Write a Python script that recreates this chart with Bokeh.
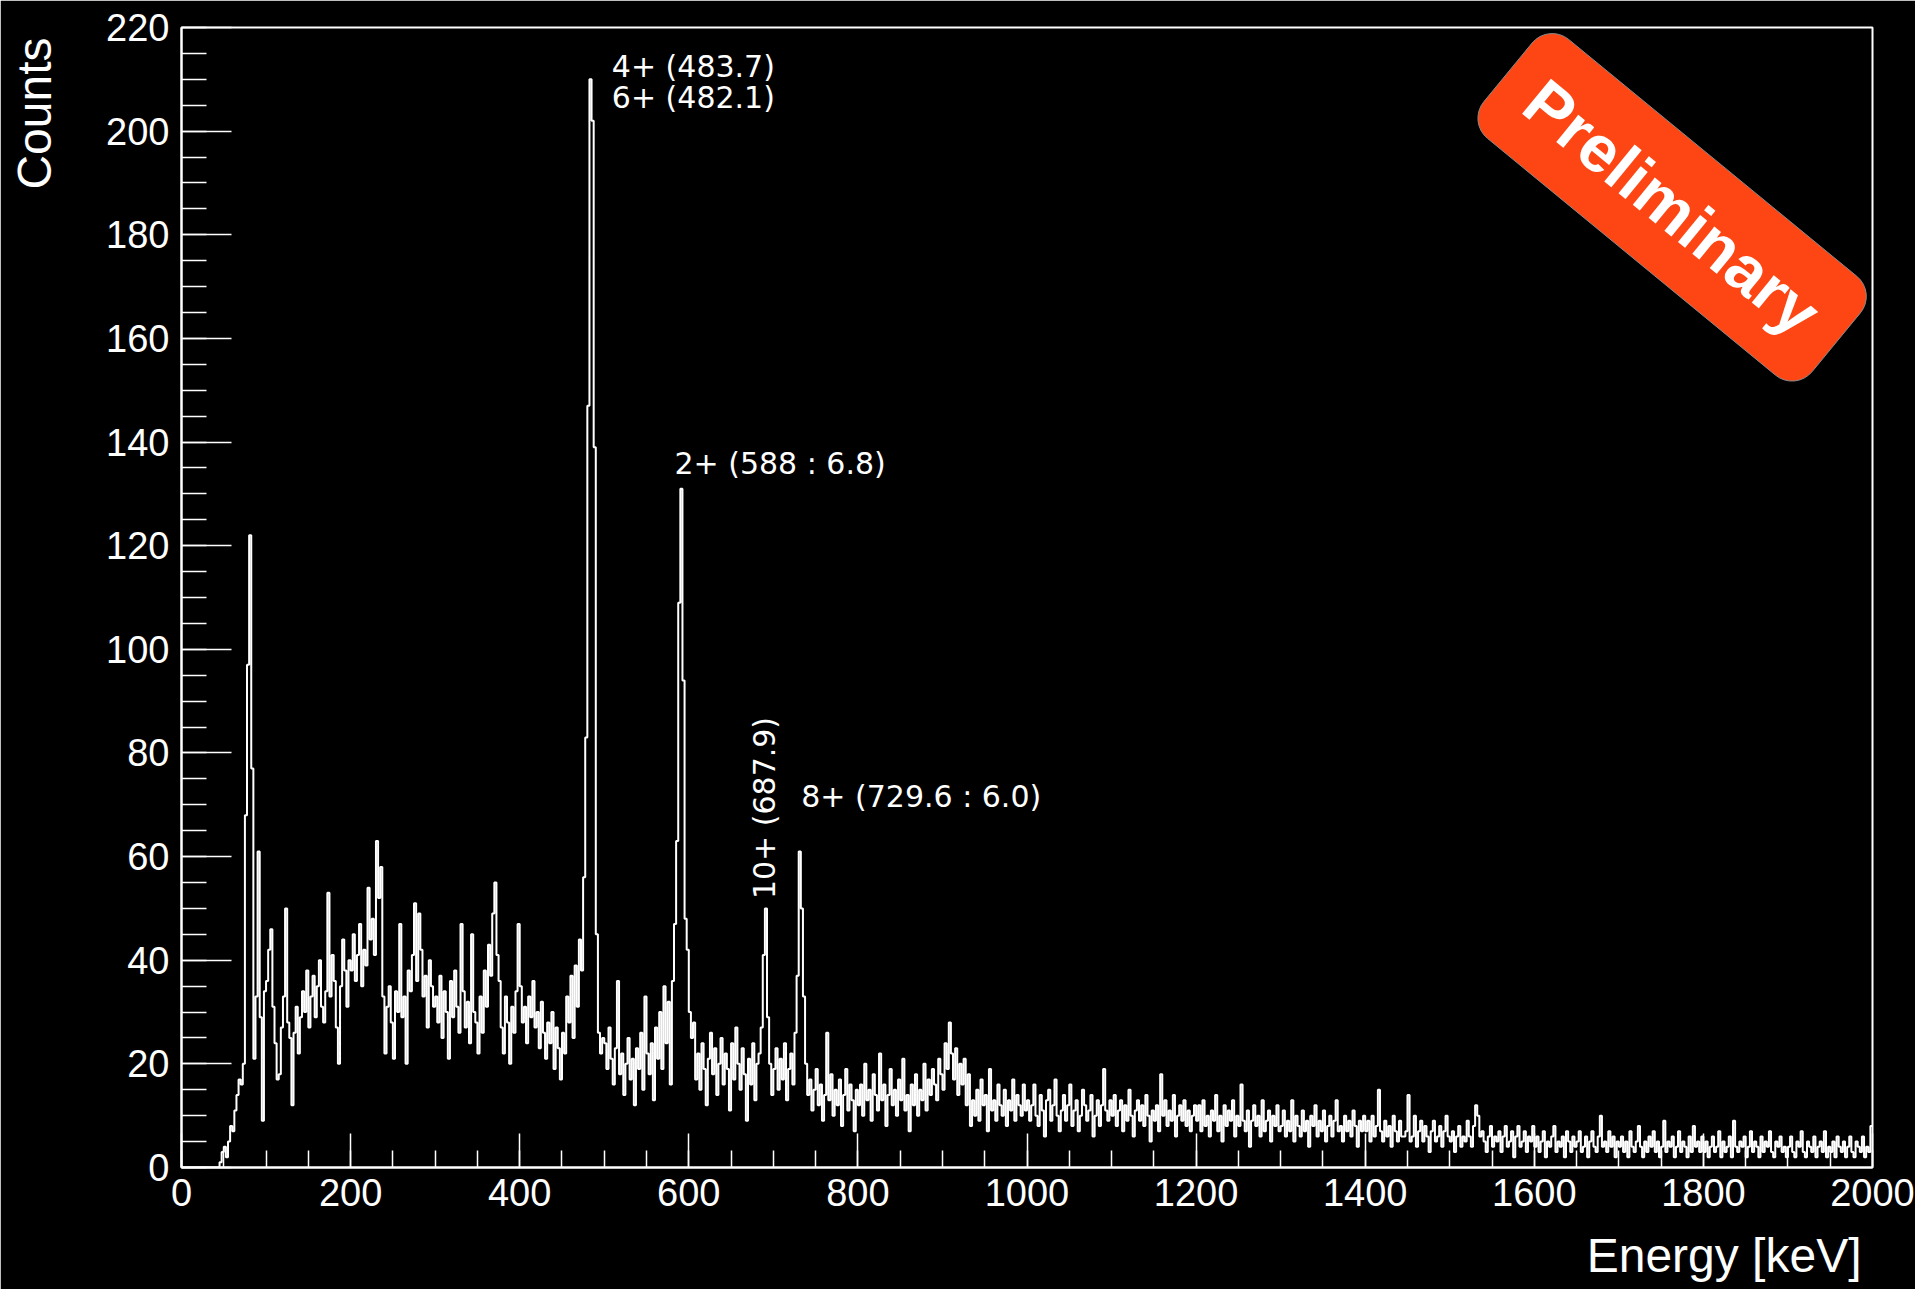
import re
import numpy as np
from bokeh.plotting import figure
from bokeh.models import Range1d, FixedTicker, Label, Title
from bokeh.embed import file_html
from bokeh.resources import INLINE

# ---------------- data ----------------
BIN_WIDTH = 2.5  # keV per bin
X_RANGE = (0, 2000)
Y_RANGE = (0, 220)

# counts per 2.5 keV bin, one list per 100 keV
seg_0000 = [0, 0, 0, 0, 0, 0, 0, 0, 0, 0,
            0, 0, 0, 0, 0, 0, 0, 0, 1, 3,
            4, 2, 5, 8, 7, 11, 14, 17, 16, 20,
            68, 97, 122, 77, 21, 33, 61, 29, 9, 34]
seg_0100 = [36, 42, 46, 31, 24, 17, 18, 27, 33, 50,
            28, 25, 12, 26, 31, 22, 29, 34, 30, 38,
            27, 33, 37, 29, 35, 40, 31, 28, 34, 53,
            33, 41, 36, 27, 20, 35, 44, 38, 31, 40]
seg_0200 = [38, 45, 36, 41, 47, 35, 42, 39, 54, 44,
            48, 41, 63, 52, 58, 33, 22, 31, 35, 28,
            21, 34, 30, 47, 29, 33, 20, 38, 34, 41,
            51, 36, 49, 42, 33, 37, 27, 40, 35, 31]
seg_0300 = [33, 28, 37, 25, 34, 30, 21, 36, 29, 38,
            31, 26, 47, 34, 27, 32, 24, 45, 30, 28,
            22, 33, 26, 38, 31, 43, 37, 49, 55, 41,
            36, 27, 22, 33, 28, 20, 31, 26, 34, 47]
seg_0400 = [35, 28, 31, 24, 33, 29, 36, 27, 30, 23,
            32, 26, 21, 28, 24, 30, 19, 27, 23, 17,
            26, 22, 33, 28, 37, 25, 39, 31, 44, 38,
            56, 83, 147, 210, 202, 139, 45, 26, 22, 25]
seg_0500 = [24, 19, 27, 21, 16, 23, 36, 18, 22, 14,
            20, 25, 17, 21, 12, 23, 19, 26, 15, 33,
            22, 18, 24, 13, 27, 21, 30, 19, 35, 24,
            32, 16, 36, 47, 63, 109, 131, 94, 48, 42]
seg_0600 = [30, 25, 28, 17, 22, 15, 24, 19, 12, 21,
            26, 18, 23, 14, 20, 25, 16, 22, 19, 11,
            24, 17, 27, 20, 15, 23, 18, 9, 21, 16,
            24, 13, 20, 22, 27, 41, 50, 29, 20, 14]
seg_0700 = [19, 23, 15, 21, 17, 24, 13, 19, 22, 16,
            26, 37, 61, 50, 33, 20, 14, 17, 11, 15,
            19, 12, 16, 9, 14, 26, 13, 18, 10, 15,
            12, 17, 8, 14, 19, 11, 16, 13, 7, 15]
seg_0800 = [12, 16, 10, 20, 13, 15, 9, 18, 14, 11,
            22, 13, 16, 8, 14, 19, 12, 15, 10, 17,
            13, 21, 11, 14, 7, 16, 12, 18, 10, 15,
            13, 20, 11, 17, 14, 19, 16, 13, 21, 18]
seg_0900 = [15, 24, 19, 28, 22, 17, 23, 14, 20, 16,
            21, 12, 18, 8, 13, 10, 15, 9, 17, 12,
            14, 7, 19, 11, 13, 9, 16, 12, 10, 15,
            8, 13, 11, 17, 9, 14, 12, 10, 16, 11]
seg_1000 = [13, 9, 12, 16, 10, 8, 14, 11, 6, 13,
            15, 9, 12, 17, 10, 7, 11, 14, 9, 12,
            16, 8, 11, 13, 7, 10, 15, 12, 9, 11,
            14, 6, 10, 13, 8, 12, 19, 11, 9, 13]
seg_1100 = [10, 14, 8, 11, 13, 7, 12, 9, 15, 10,
            6, 11, 13, 9, 12, 8, 14, 10, 5, 11,
            9, 12, 7, 18, 10, 13, 8, 11, 9, 14,
            6, 10, 12, 9, 13, 8, 11, 7, 10, 12]
seg_1200 = [9, 12, 7, 13, 8, 10, 6, 11, 9, 14,
            7, 10, 5, 12, 8, 11, 9, 13, 6, 10,
            8, 16, 9, 7, 11, 4, 9, 12, 8, 10,
            6, 13, 7, 9, 11, 5, 10, 8, 12, 7]
seg_1300 = [8, 11, 6, 9, 7, 13, 5, 10, 8, 6,
            11, 7, 9, 4, 10, 8, 12, 6, 9, 7,
            11, 5, 8, 10, 6, 9, 13, 7, 8, 5,
            10, 7, 9, 6, 11, 8, 4, 9, 7, 10]
seg_1400 = [7, 9, 5, 10, 6, 8, 15, 7, 5, 9,
            6, 8, 4, 10, 7, 5, 9, 6, 6, 7,
            14, 5, 6, 10, 4, 7, 9, 5, 8, 6,
            3, 7, 9, 5, 6, 8, 4, 7, 10, 6]
seg_1500 = [5, 7, 3, 6, 8, 4, 6, 5, 9, 6,
            4, 8, 12, 10, 6, 7, 5, 3, 6, 8,
            4, 6, 5, 7, 3, 6, 8, 4, 5, 7,
            2, 6, 8, 4, 5, 7, 3, 6, 5, 8]
seg_1600 = [4, 6, 3, 5, 7, 2, 5, 4, 6, 8,
            3, 5, 4, 6, 2, 7, 5, 3, 6, 4,
            5, 7, 3, 4, 6, 2, 5, 7, 4, 3,
            6, 10, 4, 5, 3, 7, 4, 6, 2, 5]
seg_1700 = [4, 6, 3, 5, 2, 7, 4, 3, 5, 8,
            4, 2, 5, 3, 6, 4, 7, 3, 5, 2,
            4, 9, 3, 5, 4, 6, 2, 4, 7, 3,
            5, 4, 2, 6, 3, 8, 4, 5, 3, 6]
seg_1800 = [3, 5, 2, 4, 6, 3, 4, 7, 2, 5,
            3, 4, 6, 2, 9, 4, 3, 5, 4, 6,
            2, 4, 7, 3, 5, 4, 2, 6, 3, 5,
            4, 7, 3, 2, 5, 4, 6, 3, 4, 2]
seg_1900 = [4, 6, 3, 2, 5, 4, 7, 3, 2, 5,
            4, 3, 6, 2, 4, 5, 3, 7, 2, 4,
            3, 5, 2, 6, 4, 3, 5, 2, 4, 6,
            3, 2, 5, 4, 3, 6, 2, 4, 3, 8]

segments = [seg_0000, seg_0100, seg_0200, seg_0300, seg_0400,
            seg_0500, seg_0600, seg_0700, seg_0800, seg_0900,
            seg_1000, seg_1100, seg_1200, seg_1300, seg_1400,
            seg_1500, seg_1600, seg_1700, seg_1800, seg_1900]

x_major_ticks = [0, 200, 400, 600, 800, 1000, 1200, 1400, 1600, 1800, 2000]
x_minor_ticks = list(range(0, 2001, 50))
y_major_ticks = [0, 20, 40, 60, 80, 100, 120, 140, 160, 180, 200, 220]
y_minor_ticks = list(range(0, 221, 5))

peak_labels = ["4+ (483.7)", "6+ (482.1)", "2+ (588 : 6.8)", "8+ (729.6 : 6.0)"]
peak_label_x = [509, 509, 583, 733]
peak_label_y = [212.4, 206.4, 135.9, 71.6]
vert_label = "10+ (687.9)"
vert_label_x = 690
vert_label_y = 51.8

x_title = "Energy [keV]"
y_title = "Counts"
badge_text = "Preliminary"

# ---------------- build ----------------
counts = []
for s in segments:
    counts.extend(s)
edges = np.arange(len(counts) + 1) * BIN_WIDTH
ys = counts + [counts[-1]]

p = figure(width=1915, height=1289,
           x_range=Range1d(*X_RANGE), y_range=Range1d(*Y_RANGE),
           output_backend="svg", toolbar_location=None, title=None,
           min_border_left=179, min_border_right=43,
           min_border_top=27, min_border_bottom=122)
p.background_fill_color = "black"
p.border_fill_color = "black"
p.outline_line_color = "white"
p.outline_line_width = 2
p.xgrid.visible = False
p.ygrid.visible = False

p.xaxis.ticker = FixedTicker(ticks=x_major_ticks, minor_ticks=x_minor_ticks)
p.yaxis.ticker = FixedTicker(ticks=y_major_ticks, minor_ticks=y_minor_ticks)
for ax in (p.xaxis[0], p.yaxis[0]):
    ax.axis_line_color = "white"
    ax.axis_line_width = 2
    ax.major_tick_line_color = "white"
    ax.minor_tick_line_color = "white"
    ax.major_tick_line_width = 1.5
    ax.minor_tick_line_width = 1.5
    ax.major_tick_out = 0
    ax.minor_tick_out = 0
    ax.major_label_text_color = "white"
    ax.major_label_text_font = "Liberation Sans"
    ax.major_label_text_font_size = "38px"
p.xaxis.major_tick_in = 34
p.xaxis.minor_tick_in = 17
p.yaxis.major_tick_in = 50
p.yaxis.minor_tick_in = 25
p.xaxis.major_label_standoff = 11
p.yaxis.major_label_standoff = 12

p.step(edges, ys, mode="after", line_color="white", line_width=2)

# annotations
for t, x, y in zip(peak_labels, peak_label_x, peak_label_y):
    p.add_layout(Label(x=x, y=y, text=t, text_color="white",
                       text_font="DejaVu Sans", text_font_size="30px",
                       text_align="left", text_baseline="alphabetic"))
p.add_layout(Label(x=vert_label_x, y=vert_label_y, text=vert_label, angle=np.pi / 2,
                   text_color="white", text_font="DejaVu Sans", text_font_size="30px",
                   text_align="left", text_baseline="alphabetic"))


# axis titles (ROOT style, at the far ends of the axes), with blank spacers
def spacer(size):
    return Title(text=" ", text_color="black", text_font_size=size)


def axis_title(text, offset):
    return Title(text=text, align="right", text_color="white", text_font="Liberation Sans",
                 text_font_size="48px", text_font_style="normal", offset=offset)


p.add_layout(spacer("1px"), "below")
p.add_layout(axis_title(x_title, 11), "below")
p.add_layout(spacer("23px"), "left")
p.add_layout(axis_title(y_title, 10), "left")

# preliminary badge
badge_x, badge_y, badge_angle = 1763, 185.3, -0.688
rect_kw = dict(x=[badge_x], y=[badge_y], width=425, height=128,
               width_units="screen", height_units="screen", angle=badge_angle,
               fill_color="#fd4614", line_color="#8a8a8a", line_width=1)
try:
    p.rect(border_radius=26, **rect_kw)
except Exception:
    p.rect(**rect_kw)
p.add_layout(Label(x=badge_x, y=badge_y, text=badge_text, angle=badge_angle,
                   text_color="white", text_font="Liberation Sans",
                   text_font_style="bold", text_font_size="66px",
                   text_align="center", text_baseline="middle"))

html = file_html(p, INLINE, title="Energy spectrum")
html = re.sub(r"<body([^>]*)>", r'<body\1 style="background-color:#000000;">', html, count=1)
open("out.html", "w").write(html)
